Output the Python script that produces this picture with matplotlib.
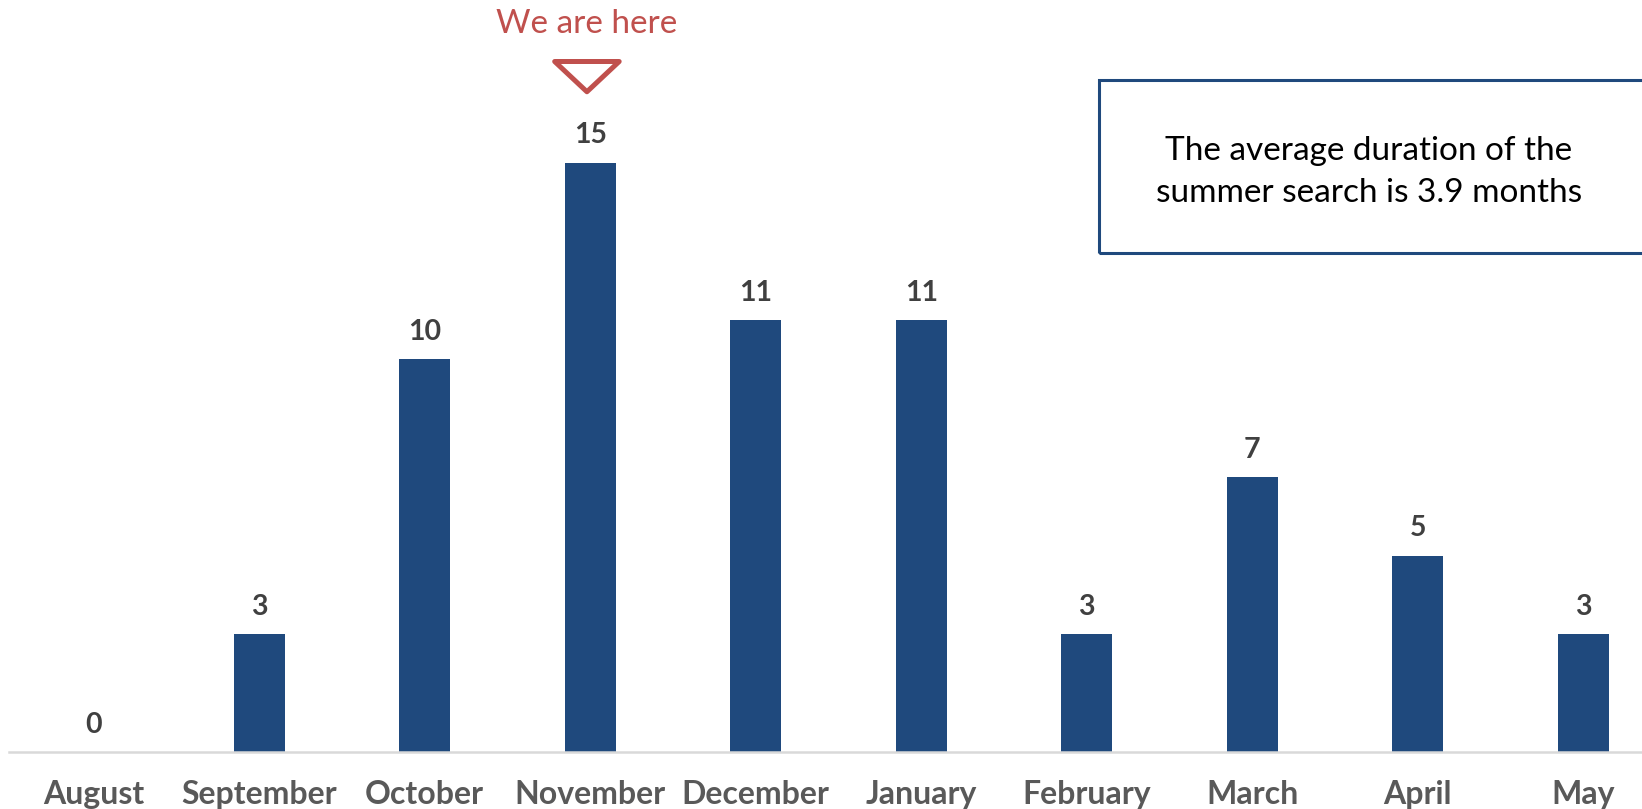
import numpy as np
import matplotlib.pyplot as plt
from matplotlib.patches import Polygon, Rectangle

plt.rcParams['font.family'] = ['Lato', 'DejaVu Sans']

# data
months = ["August", "September", "October", "November", "December",
          "January", "February", "March", "April", "May"]
counts = [0, 3, 10, 15, 11, 11, 3, 7, 5, 3]
here_idx = 3
note = "The average duration of the\nsummer search is 3.9 months"

bar_color = "#1F497D"
red = "#C0504D"

W, H = 1642, 809
fig = plt.figure(figsize=(W / 100, H / 100), dpi=100)
ax = fig.add_axes([9 / W, 57 / H, 1 - 9 / W, 1 - 57 / H])

x = np.arange(len(months))
ax.bar(x, counts, width=0.31, color=bar_color, zorder=2)

ax.set_xlim(-0.512, 9.355)
ax.set_ylim(0, 752 / 39.3)

for xi, v in zip(x, counts):
    ax.text(xi, v + 0.69, str(v), ha='center', va='center',
            fontsize=20.5, fontweight='bold', color='#404040')

ax.set_xticks(x)
ax.set_xticklabels(months, fontsize=23, fontweight='bold', color='#595959')
ax.tick_params(axis='x', length=0, pad=20)
ax.set_yticks([])
for s in ['top', 'right', 'left']:
    ax.spines[s].set_visible(False)
ax.spines['bottom'].set_color('#D9D9D9')
ax.spines['bottom'].set_linewidth(1.8)

# "We are here" marker
cx = here_idx - 0.02
tri = Polygon([[cx - 0.195, 17.57], [cx + 0.195, 17.57], [cx, 16.8]],
              closed=True, fill=False, edgecolor=red, linewidth=3.6,
              joinstyle='round', clip_on=False)
ax.add_patch(tri)
ax.text(cx, 18.52, "We are here", ha='center', va='center',
        fontsize=24, color=red)

# note box
rect = Rectangle((1098.5 / W, 1 - 252.5 / H), (W - 1098.5 + 10) / W, (252.5 - 80.5) / H,
                 transform=fig.transFigure, fill=False, edgecolor=bar_color,
                 linewidth=2.2)
fig.patches.append(rect)
fig.text(1369 / W, 1 - 172 / H, note, ha='center', va='center',
         fontsize=24, color='black', linespacing=1.53)

fig.savefig("out.png", dpi=100)
